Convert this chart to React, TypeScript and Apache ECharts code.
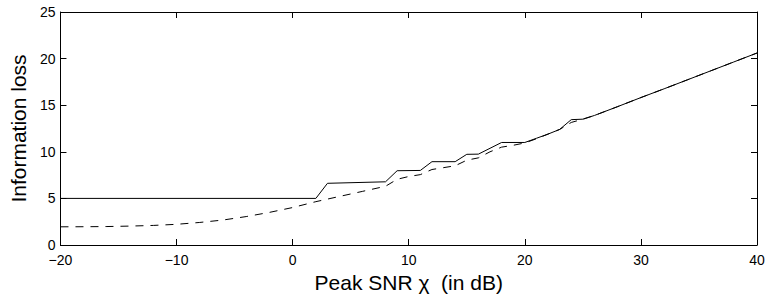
import React, { useEffect, useRef } from "react";
import * as echarts from "echarts";

const xTicks = [-20, -10, 0, 10, 20, 30, 40];
const yTicks = [0, 5, 10, 15, 20, 25];

const snrSolid = [-20, 2, 3, 8, 9, 11, 12, 14, 15, 16, 18, 20, 21, 22, 23, 24, 25, 26, 28, 30, 32, 34, 36, 38, 40];
const lossSolid = [5, 5, 6.62, 6.78, 7.97, 8.0, 8.94, 8.94, 9.73, 9.75, 11.0, 11.0, 11.45, 11.9, 12.4, 13.45, 13.5, 13.9, 14.85, 15.82, 16.76, 17.72, 18.68, 19.64, 20.6];

const snrDashed = [-20, -18, -16, -14, -12, -10, -8, -6, -4, -2, 0, 2, 4, 6, 8, 9, 10, 11, 12, 13, 14, 15, 16, 17, 18, 19, 20, 21, 22, 23, 24, 25, 26, 28, 30, 32, 34, 36, 38, 40];
const lossDashed = [1.95, 1.96, 1.98, 2.03, 2.1, 2.22, 2.42, 2.68, 3.05, 3.5, 4.02, 4.65, 5.2, 5.75, 6.3, 7.05, 7.35, 7.55, 8.1, 8.3, 8.5, 9.1, 9.35, 10.0, 10.5, 10.7, 10.95, 11.4, 11.9, 12.4, 13.15, 13.5, 13.9, 14.85, 15.82, 16.76, 17.72, 18.68, 19.64, 20.6];

const xTitle = "Peak SNR \u03c7  (in dB)";
const yTitle = "Information loss";

const FONT = "'Liberation Sans', Arial, Helvetica, sans-serif";

export default function App() {
  const ref = useRef<HTMLDivElement>(null);
  useEffect(() => {
    if (!ref.current) return;
    const chart = echarts.init(ref.current, null, { renderer: "svg" });
    const axisLine = { show: true, onZero: false, lineStyle: { color: "#000", width: 1 } };
    const axisTick = { show: true, inside: true, length: 6, lineStyle: { color: "#000", width: 1 } };
    const fmt = (v: number) => String(v).replace("-", "\u2212");
    chart.setOption({
      animation: false,
      backgroundColor: "#fff",
      grid: { left: 55, right: 12, top: 12, bottom: 54, containLabel: false },
      xAxis: [
        {
          type: "value",
          min: xTicks[0],
          max: xTicks[xTicks.length - 1],
          interval: 10,
          position: "bottom",
          axisLine,
          axisTick,
          splitLine: { show: false },
          axisLabel: { color: "#000", fontSize: 14, fontFamily: FONT, margin: 8, formatter: fmt },
          name: xTitle,
          nameLocation: "middle",
          nameGap: 24,
          nameTextStyle: { color: "#000", fontSize: 21, fontFamily: FONT },
        },
        {
          type: "value",
          min: xTicks[0],
          max: xTicks[xTicks.length - 1],
          interval: 10,
          position: "top",
          axisLine,
          axisTick,
          splitLine: { show: false },
          axisLabel: { show: false },
        },
      ],
      yAxis: [
        {
          type: "value",
          min: yTicks[0],
          max: yTicks[yTicks.length - 1],
          interval: 5,
          position: "left",
          axisLine,
          axisTick,
          splitLine: { show: false },
          axisLabel: { color: "#000", fontSize: 14, fontFamily: FONT, margin: 5, formatter: fmt },
          name: yTitle,
          nameLocation: "middle",
          nameGap: 25,
          nameRotate: 90,
          nameTextStyle: { color: "#000", fontSize: 21, fontFamily: FONT },
        },
        {
          type: "value",
          min: yTicks[0],
          max: yTicks[yTicks.length - 1],
          interval: 5,
          position: "right",
          axisLine,
          axisTick,
          splitLine: { show: false },
          axisLabel: { show: false },
        },
      ],
      series: [
        {
          type: "line",
          data: snrDashed.map((x, i) => [x, lossDashed[i]]),
          showSymbol: false,
          symbol: "none",
          lineStyle: { color: "#000", width: 1, type: [8, 7] },
          z: 2,
        },
        {
          type: "line",
          data: snrSolid.map((x, i) => [x, lossSolid[i]]),
          showSymbol: false,
          symbol: "none",
          lineStyle: { color: "#000", width: 1, type: "solid" },
          z: 3,
        },
      ],
    });
    return () => chart.dispose();
  }, []);
  return <div ref={ref} style={{ position: "absolute", left: 0, top: 0, width: 769, height: 299 }} />;
}
